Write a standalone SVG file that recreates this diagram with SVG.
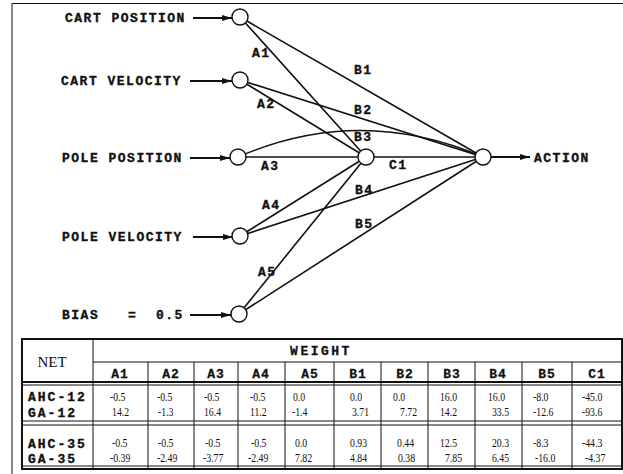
<svg xmlns="http://www.w3.org/2000/svg" width="623" height="474" viewBox="0 0 623 474">
  <style>
    .lbl { font-family: "Liberation Mono", "Courier New", monospace; font-weight: bold; font-size: 13px; letter-spacing: 1.5px; fill: #111; stroke: #111; stroke-width: 0.35; }
    .hdr { font-family: "Liberation Mono", "Courier New", monospace; font-weight: bold; font-size: 13px; letter-spacing: 1px; fill: #111; stroke: #111; stroke-width: 0.3; text-anchor: middle; }
    .net { font-family: "Liberation Mono", "Courier New", monospace; font-weight: bold; font-size: 13px; letter-spacing: 2px; fill: #111; stroke: #111; stroke-width: 0.35; }
    .num { font-family: "Liberation Serif", "Times New Roman", serif; font-size: 11.5px; fill: #111; }
    .ttl { font-family: "Liberation Serif", "Times New Roman", serif; font-size: 15px; fill: #111; text-anchor: middle; }
    .edge { stroke: #111; stroke-width: 1.6; fill: none; }
    .in { stroke: #111; stroke-width: 1.8; fill: none; marker-end: url(#arr); }
    .node { fill: #fff; stroke: #111; stroke-width: 1.4; }
    .thick { stroke: #111; stroke-width: 2; fill: none; }
    .thin { stroke: #111; stroke-width: 1; fill: none; }
  </style>
  <defs>
    <marker id="arr" viewBox="0 0 10 6" refX="10" refY="3" markerWidth="10" markerHeight="6" markerUnits="userSpaceOnUse" orient="auto">
      <path d="M0,0 L10,3 L0,6 Z" fill="#111"/>
    </marker>
  </defs>

  <rect width="623" height="474" fill="#fff"/>

  <!-- outer frame (right and bottom edges fall outside the page) -->
  <path d="M12,474 L12,3.5 L623,3.5" class="thin" stroke-width="1.6"/>

  <!-- connectors -->
  <g id="connectors">
    <line class="in" x1="193" y1="18" x2="232" y2="18"/>
    <line class="in" x1="190" y1="81" x2="232" y2="81"/>
    <line class="in" x1="190" y1="158" x2="230" y2="158"/>
    <line class="in" x1="193" y1="237" x2="233" y2="237"/>
    <line class="in" x1="190" y1="315" x2="231" y2="315"/>
    <line class="in" x1="491" y1="157" x2="530" y2="157"/>
    <!-- A weights: inputs to hidden unit -->
    <line class="edge" x1="240" y1="17" x2="366" y2="157"/>
    <line class="edge" x1="240" y1="80" x2="366" y2="157"/>
    <line class="edge" x1="238" y1="157" x2="366" y2="157"/>
    <line class="edge" x1="240" y1="236" x2="366" y2="157"/>
    <line class="edge" x1="239" y1="314" x2="366" y2="157"/>
    <!-- B weights: inputs to output unit -->
    <line class="edge" x1="240" y1="17" x2="483" y2="157"/>
    <line class="edge" x1="240" y1="80" x2="483" y2="157"/>
    <path class="edge" d="M238,157 Q360,104 483,157"/>
    <line class="edge" x1="240" y1="236" x2="483" y2="157"/>
    <line class="edge" x1="239" y1="314" x2="483" y2="157"/>
    <!-- C weight: hidden to output -->
    <line class="edge" x1="366" y1="157" x2="483" y2="157"/>
  </g>

  <!-- input units -->
  <g id="in-cart-position">
    <circle class="node" cx="240" cy="17" r="8"/>
    <text class="lbl" x="65" y="22">CART POSITION</text>
  </g>
  <g id="in-cart-velocity">
    <circle class="node" cx="240" cy="80" r="8"/>
    <text class="lbl" x="61" y="85">CART VELOCITY</text>
  </g>
  <g id="in-pole-position">
    <circle class="node" cx="238" cy="157" r="8"/>
    <text class="lbl" x="62" y="162">POLE POSITION</text>
  </g>
  <g id="in-pole-velocity">
    <circle class="node" cx="240" cy="236" r="8"/>
    <text class="lbl" x="62" y="241">POLE VELOCITY</text>
  </g>
  <g id="in-bias">
    <circle class="node" cx="239" cy="314" r="8"/>
    <text class="lbl" x="62" y="319">BIAS</text>
    <text class="lbl" x="128" y="319">=</text>
    <text class="lbl" x="156" y="319">0.5</text>
  </g>
  <g id="hidden">
    <circle class="node" cx="366" cy="157" r="8"/>
  </g>
  <g id="output">
    <circle class="node" cx="483" cy="157" r="8"/>
    <text class="lbl" x="534" y="162">ACTION</text>
  </g>

  <!-- weight labels -->
  <g id="weight-labels">
    <text class="lbl" x="252" y="57">A1</text>
    <text class="lbl" x="257" y="108">A2</text>
    <text class="lbl" x="261" y="170">A3</text>
    <text class="lbl" x="262" y="209">A4</text>
    <text class="lbl" x="258" y="276">A5</text>
    <text class="lbl" x="354" y="74">B1</text>
    <text class="lbl" x="354" y="114">B2</text>
    <text class="lbl" x="354" y="141">B3</text>
    <text class="lbl" x="355" y="194">B4</text>
    <text class="lbl" x="355" y="228">B5</text>
    <text class="lbl" x="389" y="169">C1</text>
  </g>

  <!-- weight table -->
  <g id="table">
    <rect x="22" y="339" width="600" height="130" class="thick"/>
    <line class="thick" x1="22" y1="382" x2="622" y2="382"/>
    <line class="thin" x1="22" y1="385" x2="622" y2="385"/>
    <line class="thin" x1="22" y1="421" x2="622" y2="421"/>
    <line class="thin" x1="22" y1="425" x2="622" y2="425"/>
    <line class="thin" x1="22" y1="466" x2="622" y2="466"/>
    <line class="thin" x1="93" y1="362" x2="622" y2="362"/>
    <line class="thin" x1="93" y1="339" x2="93" y2="469"/>
    <g class="thin">
      <line x1="148" y1="362" x2="148" y2="469"/>
      <line x1="194" y1="362" x2="194" y2="469"/>
      <line x1="238" y1="362" x2="238" y2="469"/>
      <line x1="285" y1="362" x2="285" y2="469"/>
      <line x1="334" y1="362" x2="334" y2="469"/>
      <line x1="381" y1="362" x2="381" y2="469"/>
      <line x1="428" y1="362" x2="428" y2="469"/>
      <line x1="475" y1="362" x2="475" y2="469"/>
      <line x1="522" y1="362" x2="522" y2="469"/>
      <line x1="572" y1="362" x2="572" y2="469"/>
    </g>
    <text class="ttl" x="52" y="367">NET</text>
    <text class="hdr" x="321" y="355" style="letter-spacing:2.5px">WEIGHT</text>
    <text class="hdr" x="120" y="378">A1</text>
    <text class="hdr" x="171" y="378">A2</text>
    <text class="hdr" x="216" y="378">A3</text>
    <text class="hdr" x="261" y="378">A4</text>
    <text class="hdr" x="310" y="378">A5</text>
    <text class="hdr" x="358" y="378">B1</text>
    <text class="hdr" x="405" y="378">B2</text>
    <text class="hdr" x="452" y="378">B3</text>
    <text class="hdr" x="498" y="378">B4</text>
    <text class="hdr" x="547" y="378">B5</text>
    <text class="hdr" x="597" y="378">C1</text>

    <text class="net" x="28" y="401">AHC-12</text>
    <text class="net" x="28" y="417">GA-12</text>
    <text class="net" x="28" y="448">AHC-35</text>
    <text class="net" x="28" y="463">GA-35</text>

    <!-- weight values, set in a narrowed serif -->
    <g class="num" transform="matrix(0.85 0 0 1 0 0)">
      <text x="129.4" y="401">-0.5</text><text x="131.8" y="416">14.2</text>
      <text x="184.7" y="401">-0.5</text><text x="185.9" y="416">-1.3</text>
      <text x="240" y="401">-0.5</text><text x="240" y="416">16.4</text>
      <text x="294.1" y="401">-0.5</text><text x="294.1" y="416">11.2</text>
      <text x="344.7" y="401">0.0</text><text x="343.5" y="416">-1.4</text>
      <text x="411.8" y="401">0.0</text><text x="414.1" y="416">3.71</text>
      <text x="462.4" y="401">0.0</text><text x="470.6" y="416">7.72</text>
      <text x="517.6" y="401">16.0</text><text x="517.6" y="416">14.2</text>
      <text x="574.1" y="401">16.0</text><text x="578.8" y="416">33.5</text>
      <text x="627.1" y="401">-8.0</text><text x="627.1" y="416">-12.6</text>
      <text x="684.7" y="401">-45.0</text><text x="684.7" y="416">-93.6</text>

      <text x="131.8" y="447">-0.5</text><text x="129.4" y="462">-0.39</text>
      <text x="185.9" y="447">-0.5</text><text x="184.7" y="462">-2.49</text>
      <text x="241.2" y="447">-0.5</text><text x="238.8" y="462">-3.77</text>
      <text x="295.3" y="447">-0.5</text><text x="291.8" y="462">-2.49</text>
      <text x="347.1" y="447">0.0</text><text x="347.1" y="462">7.82</text>
      <text x="411.8" y="447">0.93</text><text x="411.8" y="462">4.84</text>
      <text x="467.1" y="447">0.44</text><text x="468.2" y="462">0.38</text>
      <text x="517.6" y="447">12.5</text><text x="523.5" y="462">7.85</text>
      <text x="578.8" y="447">20.3</text><text x="578.8" y="462">6.45</text>
      <text x="627.1" y="447">-8.3</text><text x="629.4" y="462">-16.0</text>
      <text x="684.7" y="447">-44.3</text><text x="688.2" y="462">-4.37</text>
    </g>
  </g>
</svg>
